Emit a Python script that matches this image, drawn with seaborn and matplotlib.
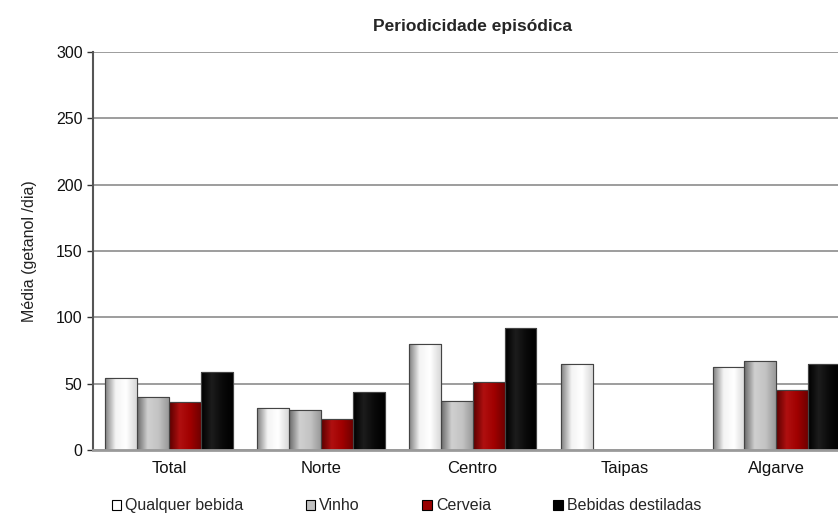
import numpy as np
import pandas as pd
import seaborn as sns
import matplotlib.pyplot as plt
from matplotlib.colors import LinearSegmentedColormap
from matplotlib.ticker import FixedLocator

regioes = ['Total', 'Norte', 'Centro', 'Taipas', 'Algarve']
bebidas = ['Qualquer bebida', 'Vinho', 'Cerveia', 'Bebidas destiladas']
qualquer = [54, 32, 80, 65, 63]
vinho = [40, 30, 37, 0, 67]
cerveia = [36, 23.5, 51, 0, 45]
destiladas = [59, 44, 92, 0, 65]
cores = ['#ffffff', '#c0c0c0', '#990000', '#000000']
gradientes = [
    ['#808080', '#f4f4f4', '#ffffff', '#d8d8d8'],
    ['#6a6a6a', '#cfcfcf', '#c4c4c4', '#9a9a9a'],
    ['#5a0000', '#b01010', '#a00000', '#700000'],
    ['#000000', '#1c1c1c', '#0a0a0a', '#000000'],
]

df = pd.DataFrame({
    'regiao': regioes * 4,
    'bebida': np.repeat(bebidas, len(regioes)),
    'media': qualquer + vinho + cerveia + destiladas,
})

sns.set_style('white')
plt.rcParams['font.family'] = ['Liberation Sans', 'DejaVu Sans']

fig = plt.figure(figsize=(8.38, 5.15), dpi=100)
ax = fig.add_axes([0.111, 0.126, 0.906, 0.773])

sns.barplot(data=df, x='regiao', y='media', hue='bebida', order=regioes,
            hue_order=bebidas, palette=cores, width=0.84, gap=0,
            edgecolor='#555555', linewidth=0.8, ax=ax, legend=False)

# sombreado tipo cilindro
for i, cont in enumerate(ax.containers):
    cmap = LinearSegmentedColormap.from_list(f'g{i}', gradientes[i])
    grad = np.linspace(0, 1, 64).reshape(1, -1)
    for bar in cont:
        if bar.get_height() <= 0:
            continue
        x0, y0 = bar.get_x(), bar.get_y()
        im = ax.imshow(grad, cmap=cmap, aspect='auto', zorder=bar.get_zorder() + 0.1,
                       extent=[x0, x0 + bar.get_width(), y0, y0 + bar.get_height()])
        im.set_clip_path(bar)
        ax.add_patch(plt.Rectangle((x0, y0), bar.get_width(), bar.get_height(),
                                   fill=False, edgecolor='#444444', linewidth=0.8,
                                   zorder=bar.get_zorder() + 0.2))

ax.set_xlim(-0.5, len(regioes) - 0.5)
ax.set_ylim(0, 300)
ax.set_yticks(range(0, 301, 50))
ax.yaxis.grid(True, color='#8c8c8c', linewidth=1.2)
ax.set_axisbelow(True)

for s in ['top', 'right']:
    ax.spines[s].set_visible(False)
ax.spines['left'].set_color('#555555')
ax.spines['left'].set_linewidth(1.5)
ax.spines['bottom'].set_color('#9a9a9a')
ax.spines['bottom'].set_linewidth(2)

ax.xaxis.set_minor_locator(FixedLocator(np.arange(-0.5, len(regioes), 1)))
ax.tick_params(axis='x', which='major', length=0, labelsize=12, pad=8, labelcolor='#111111')
ax.tick_params(axis='x', which='minor', length=5, width=1, color='#333333', direction='out')
ax.tick_params(axis='y', length=4, width=1, color='#333333', direction='out',
               labelsize=11.5, left=True, labelcolor='#111111')

ax.set_xlabel('')
ax.set_ylabel('Média (getanol /dia)', fontsize=11.5, labelpad=14, color='#222222')
ax.set_title('Periodicidade episódica', fontsize=12.5, fontweight='bold', pad=15)

handles = [plt.Rectangle((0, 0), 1, 1, facecolor=c, edgecolor='#000000', linewidth=0.8)
           for c in ['#ffffff', '#c0c0c0', '#990000', '#000000']]
fig.legend(handles, bebidas, loc='center', bbox_to_anchor=(0.485, 0.018), ncol=4,
           frameon=False, fontsize=11.5, handlelength=0.6, handleheight=0.6,
           handletextpad=0.25, columnspacing=3.9)

plt.savefig('out.png', dpi=100)
